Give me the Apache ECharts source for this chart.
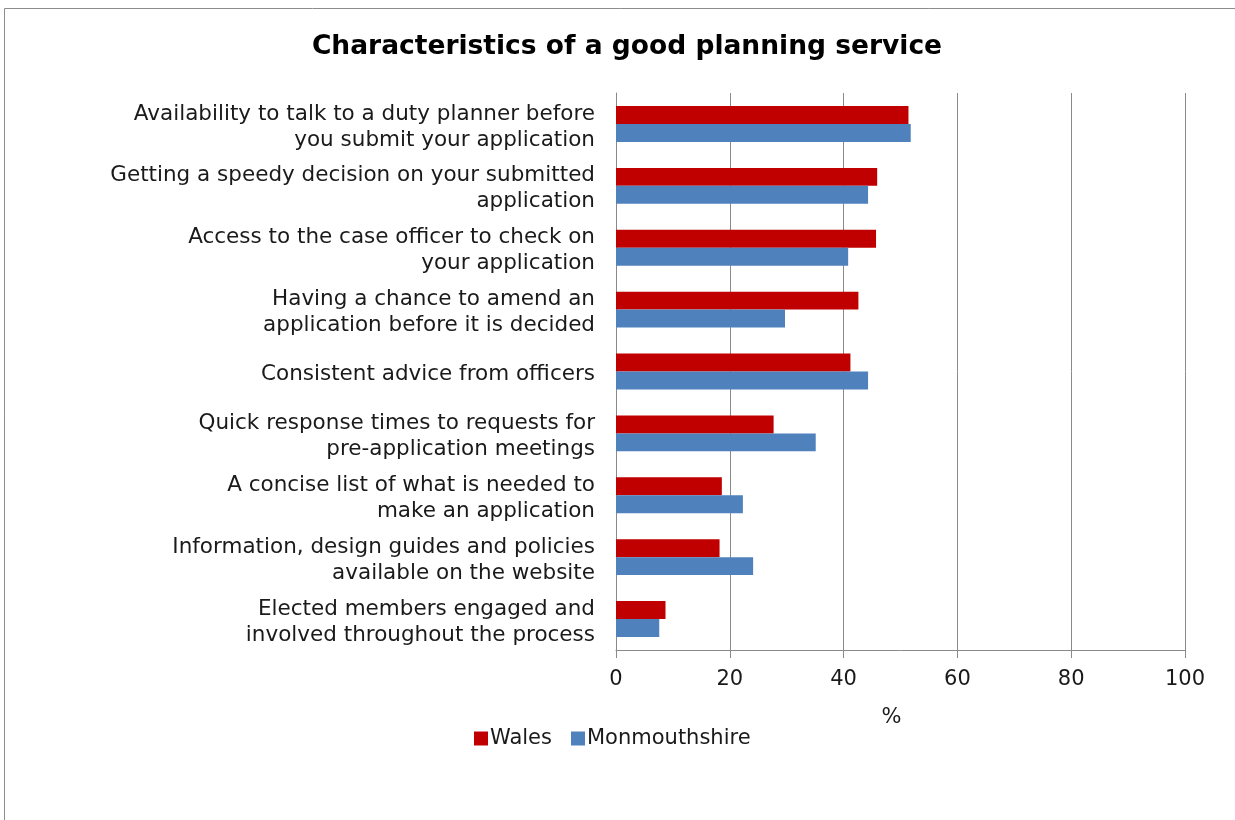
<!DOCTYPE html>
<html>
<head>
<meta charset="utf-8">
<script src="https://cdn.jsdelivr.net/npm/echarts@6/dist/echarts.min.js"></script>
<style>
  html, body { margin: 0; padding: 0; background: #fff; }
  #chart { width: 1235px; height: 820px; }
</style>
</head>
<body>
<div id="chart"></div>
<script>
// Survey answers, listed top to bottom
const categories = [
  'Availability to talk to a duty planner before\nyou submit your application',
  'Getting a speedy decision on your submitted\napplication',
  'Access to the case officer to check on\nyour application',
  'Having a chance to amend an\napplication before it is decided',
  'Consistent advice from officers',
  'Quick response times to requests for\npre-application meetings',
  'A concise list of what is needed to\nmake an application',
  'Information, design guides and policies\navailable on the website',
  'Elected members engaged and\ninvolved throughout the process'
];
const walesValues = [51.4, 45.9, 45.7, 42.6, 41.2, 27.7, 18.6, 18.2, 8.7];
const monmouthshireValues = [51.8, 44.3, 40.8, 29.7, 44.3, 35.1, 22.3, 24.1, 7.6];
const xTicks = [0, 20, 40, 60, 80, 100];

const FONT = '"DejaVu Sans", Verdana, sans-serif';
const TEXT = '#1a1a1a';
const LINE = '#8a8a8a';

const chart = echarts.init(document.getElementById('chart'), null, { renderer: 'canvas' });

// Category labels sit a little below the band centre: a thin spacer line on top pushes them down
const categoryLabel = v => '{s| }\n' + v.split('\n').map(l => '{t|' + l + '}').join('\n');

chart.setOption({
  backgroundColor: '#fff',
  animation: false,
  graphic: [{
    type: 'rect',
    shape: { x: 4.5, y: 8.5, width: 1250, height: 830 },
    style: { fill: 'none', stroke: '#8c8c8c', lineWidth: 1 },
    silent: true
  }],
  title: {
    text: 'Characteristics of a good planning service',
    left: 622,
    textAlign: 'center',
    top: 29,
    textStyle: { fontFamily: FONT, fontSize: 26.5, fontWeight: 'bold', color: '#000' }
  },
  legend: {
    data: ['Wales', 'Monmouthshire'],
    top: 723,
    left: 469,
    itemWidth: 14,
    itemHeight: 14,
    itemGap: 19,
    icon: 'rect',
    textStyle: { fontFamily: FONT, fontSize: 21, color: TEXT, padding: [0, 0, 0, -3] }
  },
  grid: { left: 616, right: 50, top: 93, bottom: 170, containLabel: false },
  xAxis: {
    type: 'value',
    min: 0,
    max: 100,
    interval: 20,
    name: '%',
    nameLocation: 'middle',
    nameGap: 57,
    nameTextStyle: { fontFamily: FONT, fontSize: 21, color: TEXT, padding: [0, 18, 0, 0] },
    axisLine: { show: true, lineStyle: { color: LINE, width: 1 } },
    axisTick: { show: true, length: 8, lineStyle: { color: LINE } },
    axisLabel: {
      fontFamily: FONT, fontSize: 21, color: TEXT, margin: 19,
      formatter: v => (xTicks.indexOf(v) >= 0 ? String(v) : '')
    },
    splitLine: { show: true, lineStyle: { color: LINE, width: 1 } }
  },
  yAxis: {
    type: 'category',
    data: categories,
    inverse: true,
    axisLine: { show: true, lineStyle: { color: LINE, width: 1 } },
    axisTick: { show: false },
    axisLabel: {
      margin: 21,
      align: 'right',
      formatter: categoryLabel,
      rich: {
        s: { fontSize: 1, lineHeight: 6 },
        t: { fontFamily: FONT, fontSize: 21.5, color: TEXT, lineHeight: 26, align: 'right' }
      }
    }
  },
  series: [
    {
      name: 'Wales',
      type: 'bar',
      data: walesValues,
      barGap: '0%',
      barCategoryGap: '42%',
      itemStyle: { color: '#C00000' }
    },
    {
      name: 'Monmouthshire',
      type: 'bar',
      data: monmouthshireValues,
      barGap: '0%',
      barCategoryGap: '42%',
      itemStyle: { color: '#4F81BD' }
    }
  ]
});
</script>
</body>
</html>
